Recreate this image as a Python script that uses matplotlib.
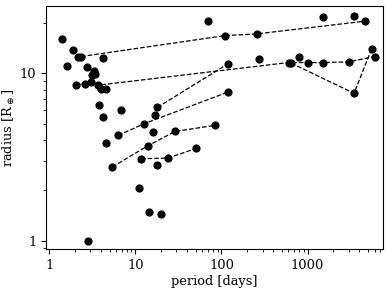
import matplotlib
matplotlib.use("Agg")
import matplotlib.pyplot as plt
from matplotlib import ticker

plt.rcParams['font.family'] = 'DejaVu Serif'
plt.rcParams['mathtext.fontset'] = 'dejavuserif'
plt.rcParams['font.size'] = 9.4

# ==================== Data ====================

# single planets (no linked system)
single_period = [1.39, 1.87, 2.17, 4.18, 1.59, 2.72, 3.34, 3.11, 3.40, 3.96, 4.53,
                 3.81, 6.8, 4.25, 4.6, 17.0, 16.0, 17.9, 11.1, 14.2, 19.9, 2.84,
                 70.6, 274, 786, 1510, 3490]
single_radius = [16.0, 13.7, 12.6, 12.3, 11.1, 10.9, 10.3, 9.8, 9.9, 8.1, 8.1,
                 6.5, 6.0, 5.45, 3.85, 5.6, 4.45, 2.82, 2.07, 1.48, 1.45, 1.0,
                 20.6, 12.2, 12.5, 21.6, 22.0]

# multi-planet systems, joined by dashed lines
sys_a_period = [2.34, 110, 258, 4690]
sys_a_radius = [12.6, 16.8, 17.2, 20.5]

sys_b_period = [2.04, 2.60, 3.05, 3.71, 601, 1000, 1510, 3000, 6010]
sys_b_radius = [8.55, 8.65, 8.9, 8.5, 11.6, 11.6, 11.6, 11.7, 12.6]

sys_c_period = [18.0, 119]
sys_c_radius = [6.26, 11.4]

sys_d_period = [6.3, 12.6, 119]
sys_d_radius = [4.26, 5.0, 7.73]

sys_e_period = [5.4, 13.9, 28.9, 84.5]
sys_e_radius = [2.76, 3.69, 4.5, 4.89]

sys_f_period = [11.6, 23.8, 50.8]
sys_f_radius = [3.09, 3.12, 3.56]

sys_g_period = [646, 3470, 5550]
sys_g_radius = [11.5, 7.6, 14.0]

systems = [
    (sys_a_period, sys_a_radius),
    (sys_b_period, sys_b_radius),
    (sys_c_period, sys_c_radius),
    (sys_d_period, sys_d_radius),
    (sys_e_period, sys_e_radius),
    (sys_f_period, sys_f_radius),
    (sys_g_period, sys_g_radius),
]

# ==================== Plot ====================

fig = plt.figure(figsize=(3.9, 2.91), dpi=100)
ax = fig.add_axes([0.118, 0.144, 0.865, 0.835])

for per, rad in systems:
    ax.plot(per, rad, 'k--', lw=0.9, marker='o', ms=4.9)
ax.plot(single_period, single_radius, 'ko', ms=4.9, lw=0)

ax.set_xscale('log')
ax.set_yscale('log')
ax.set_xlim(0.915, 7600)
ax.set_ylim(0.892, 25.2)

fmt = ticker.FuncFormatter(lambda v, _: f'{v:g}')
ax.xaxis.set_major_formatter(fmt)
ax.yaxis.set_major_formatter(fmt)
ax.xaxis.set_minor_formatter(ticker.NullFormatter())
ax.yaxis.set_minor_formatter(ticker.NullFormatter())

ax.set_xlabel('period [days]', labelpad=2)
ax.set_ylabel(r'radius [R$_\oplus$]', labelpad=2)

fig.savefig('out.png', dpi=100)
